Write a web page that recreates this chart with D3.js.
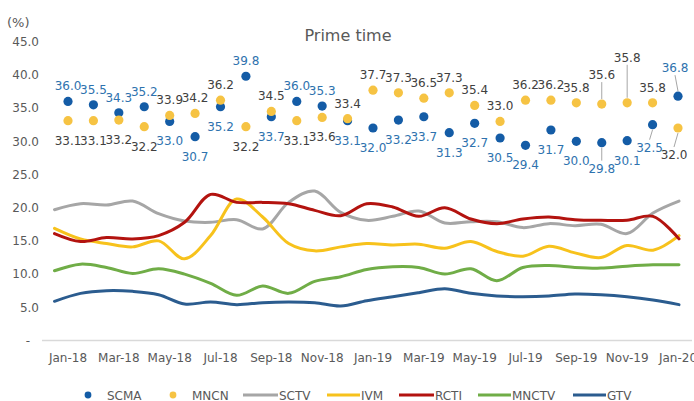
<!DOCTYPE html>
<html lang="en">
<head>
<meta charset="UTF-8">
<title>Prime time</title>
<style>
    body{ margin:0; background:#fff; font-family:"DejaVu Sans", Verdana, sans-serif; }
    svg{ display:block; }
    .tick-label{ font-size:12px; fill:#595959; }
    .title{ font-size:16px; fill:#595959; text-anchor:middle; }
    .dlabel{ font-size:12px; text-anchor:middle; }
    .legend-text{ font-size:12px; fill:#595959; }
</style>
<script src="https://d3js.org/d3.v7.min.js"></script>
</head>
<body>
<script>
    // ---- data ----
    var months = ["Jan-18","Feb-18","Mar-18","Apr-18","May-18","Jun-18","Jul-18","Aug-18","Sep-18","Oct-18","Nov-18","Dec-18",
                  "Jan-19","Feb-19","Mar-19","Apr-19","May-19","Jun-19","Jul-19","Aug-19","Sep-19","Oct-19","Nov-19","Dec-19","Jan-20"];
    var xTickLabels = ["Jan-18","Mar-18","May-18","Jul-18","Sep-18","Nov-18","Jan-19","Mar-19","May-19","Jul-19","Sep-19","Nov-19","Jan-20"];
    var yTicks = [0, 5, 10, 15, 20, 25, 30, 35, 40, 45];

    var scma  = [36.0,35.5,34.3,35.2,33.0,30.7,35.2,39.8,33.7,36.0,35.3,33.1,32.0,33.2,33.7,31.3,32.7,30.5,29.4,31.7,30.0,29.8,30.1,32.5,36.8];
    var mncn  = [33.1,33.1,33.2,32.2,33.9,34.2,36.2,32.2,34.5,33.1,33.6,33.4,37.7,37.3,36.5,37.3,35.4,33.0,36.2,36.2,35.8,35.6,35.8,35.8,32.0];
    var sctv  = [19.7,20.6,20.4,21.0,19.1,18.0,17.8,18.2,16.8,20.8,22.5,19.3,18.1,18.7,19.5,17.7,17.9,17.9,17.0,17.6,17.3,17.5,16.1,19.2,21.0];
    var ivm   = [16.9,15.3,14.6,14.1,15.0,12.3,15.8,21.3,18.6,14.6,13.5,14.1,14.6,14.4,14.5,13.9,14.9,13.4,12.7,14.2,13.2,12.5,14.3,13.6,15.8];
    var rcti  = [16.1,14.9,15.5,15.3,15.8,17.8,22.0,20.8,20.8,20.6,19.6,18.8,20.6,20.1,18.7,20.0,18.3,17.6,18.3,18.6,18.2,18.1,18.1,18.7,15.3];
    var mnctv = [10.5,11.5,11.0,10.1,10.8,10.0,8.6,6.8,8.2,7.1,8.9,9.6,10.7,11.1,11.0,10.0,10.8,9.0,11.0,11.3,11.0,10.9,11.2,11.4,11.4];
    var gtv   = [5.9,7.1,7.5,7.4,6.9,5.5,5.8,5.4,5.7,5.8,5.7,5.2,6.0,6.6,7.2,7.8,7.1,6.7,6.6,6.7,7.0,6.9,6.6,6.1,5.4];

    // ---- layout ----
    var W = 694, H = 401;
    var svg = d3.select("body").append("svg").attr("width", W).attr("height", H);

    var y = d3.scaleLinear().domain([0, 45]).range([340.5, 41.7]);
    var xDot = d3.scalePoint().domain(months).range([68, 678]);
    var xLine = d3.scalePoint().domain(months).range([54.5, 679]);

    // title
    svg.append("text").attr("class", "title").attr("x", 348).attr("y", 41).text("Prime time");
    svg.append("text").attr("class", "tick-label").attr("x", 7).attr("y", 27).style("font-size", "13px").text("(%)");

    // y tick labels
    svg.append("g").selectAll("text")
        .data(yTicks)
        .enter().append("text")
        .attr("class", "tick-label")
        .attr("x", function(d){ return d === 0 ? 30 : 39; })
        .attr("y", function(d){ return y(d); })
        .attr("dy", "0.36em")
        .attr("text-anchor", "end")
        .text(function(d){ return d === 0 ? "-" : d3.format(".1f")(d); });

    // x axis line
    svg.append("line")
        .attr("x1", 42).attr("x2", 692)
        .attr("y1", y(0)).attr("y2", y(0))
        .attr("stroke", "#d9d9d9").attr("stroke-width", 1.5);

    // x tick labels
    svg.append("g").selectAll("text")
        .data(xTickLabels)
        .enter().append("text")
        .attr("class", "tick-label")
        .attr("x", function(d){ return xDot(d); })
        .attr("y", 362)
        .attr("text-anchor", "middle")
        .text(function(d){ return d; });

    // lines
    var lineSeries = [
        {name:"SCTV",  values:sctv,  color:"#a6a6a6"},
        {name:"IVM",   values:ivm,   color:"#f7c21c"},
        {name:"RCTI",  values:rcti,  color:"#b3130f"},
        {name:"MNCTV", values:mnctv, color:"#70ad47"},
        {name:"GTV",   values:gtv,   color:"#2b5c8f"}
    ];
    var lineGen = d3.line()
        .x(function(d, i){ return xLine(months[i]); })
        .y(function(d){ return y(d); })
        .curve(d3.curveCatmullRom.alpha(0.5));

    svg.append("g").selectAll("path")
        .data(lineSeries)
        .enter().append("path")
        .attr("d", function(s){ return lineGen(s.values); })
        .attr("fill", "none")
        .attr("stroke", function(s){ return s.color; })
        .attr("stroke-width", 3)
        .attr("stroke-linejoin", "round")
        .attr("stroke-linecap", "round");

    // dots
    var dotSeries = [
        {key:"scma", name:"SCMA", values:scma, color:"#145ca6", labelColor:"#2e72ae", other:mncn},
        {key:"mncn", name:"MNCN", values:mncn, color:"#f6c343", labelColor:"#404040", other:scma}
    ];
    dotSeries.forEach(function(s){
        svg.append("g").selectAll("circle")
            .data(s.values)
            .enter().append("circle")
            .attr("cx", function(d, i){ return xDot(months[i]); })
            .attr("cy", function(d){ return y(d); })
            .attr("r", 4.6)
            .attr("fill", s.color);
    });

    // data labels: the higher of the pair goes above, the lower below
    // a few labels are moved away and get a leader line, like in the source
    var nudge = {
        "mncn21": [0, -25], "scma21": [0, 30],
        "mncn22": [0, -41],
        "scma23": [-3, 27],
        "scma24": [-3, -24], "mncn24": [-4, 31]
    };
    var labelGroup = svg.append("g");
    dotSeries.forEach(function(s){
        s.values.forEach(function(v, i){
            var above = v > s.other[i];
            var cx = xDot(months[i]), cy = y(v);
            var off = nudge[s.key + i];
            var dx = off ? off[0] : 0;
            var dy = off ? off[1] : (above ? -11 : 24);
            if(off){
                labelGroup.append("line")
                    .attr("x1", cx).attr("y1", above ? cy - 5 : cy + 5)
                    .attr("x2", cx + dx).attr("y2", above ? cy + dy + 3 : cy + dy - 12)
                    .attr("stroke", "#a6a6a6").attr("stroke-width", 1);
            }
            labelGroup.append("text")
                .attr("class", "dlabel")
                .attr("x", cx + dx)
                .attr("y", cy + dy)
                .attr("fill", s.labelColor)
                .text(d3.format(".1f")(v));
        });
    });

    // legend
    var legendItems = [
        {name:"SCMA",  type:"dot",  color:"#145ca6", x:88,  tx:107},
        {name:"MNCN",  type:"dot",  color:"#f6c343", x:173, tx:192},
        {name:"SCTV",  type:"line", color:"#a6a6a6", x:243, tx:279},
        {name:"IVM",   type:"line", color:"#f7c21c", x:327, tx:361},
        {name:"RCTI",  type:"line", color:"#b3130f", x:399, tx:435},
        {name:"MNCTV", type:"line", color:"#70ad47", x:478, tx:512},
        {name:"GTV",   type:"line", color:"#2b5c8f", x:573, tx:607}
    ];
    var ly = 395;
    var legend = svg.append("g");
    legendItems.forEach(function(it){
        if(it.type === "dot"){
            legend.append("circle").attr("cx", it.x).attr("cy", ly).attr("r", 3.4).attr("fill", it.color);
        } else {
            legend.append("line")
                .attr("x1", it.x).attr("x2", it.tx - 1)
                .attr("y1", ly).attr("y2", ly)
                .attr("stroke", it.color).attr("stroke-width", 3);
        }
        legend.append("text")
            .attr("class", "legend-text")
            .attr("x", it.tx).attr("y", ly + 4.5)
            .text(it.name);
    });
</script>
</body>
</html>
